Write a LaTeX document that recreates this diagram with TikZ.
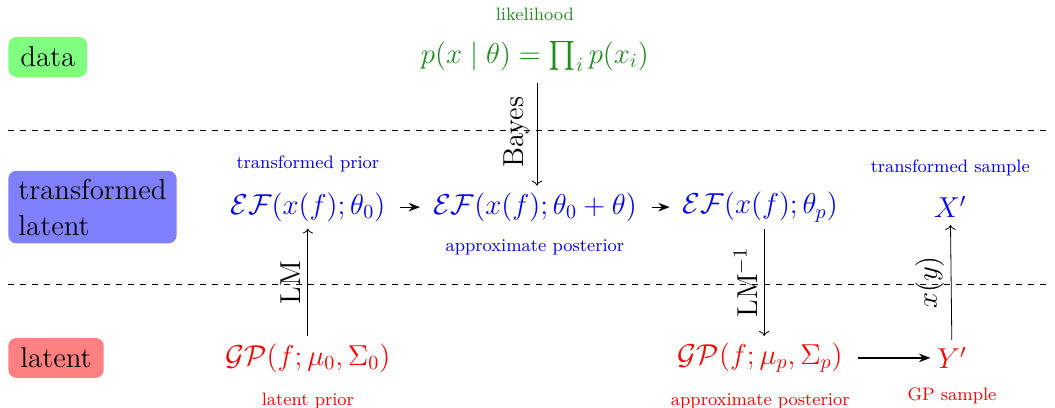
\documentclass[tikz,border=0pt]{standalone}
\usepackage{amsmath,amssymb}
\usepackage{tikz}
\usetikzlibrary{arrows.meta}
\usepackage{xcolor}
\definecolor{likgreen}{RGB}{34,139,34}

\begin{document}
\begin{tikzpicture}[every node/.style={font=\Large},
  level/.style={rounded corners, inner ysep=4pt, inner xsep=6pt, minimum height=0.7cm, anchor=west, align=left},
  note/.style={font=\small}]
  \useasboundingbox (0,0) rectangle (18.54,7.17);

  % level boxes on the left
  \node[level, fill=green!50] (data) at (0.14,6.17) {data};
  \node[level, fill=blue!50, inner xsep=5pt] (tlatent) at (0.14,3.53) {transformed\\latent};
  \node[level, fill=red!50] (latent) at (0.14,0.88) {latent};

  \draw[dashed] (0.14,4.87) -- (18.45,4.87);
  \draw[dashed] (0.14,2.18) -- (18.45,2.18);

  % data row
  \node[likgreen] (lik) at (9.40,6.17) {$p(x \mid \theta) = \prod_i p(x_i)$};
  \node[note, likgreen] (liklabel) at (9.40,6.91) {likelihood};

  % transformed latent row
  \node[blue] (ef0) at (5.41,3.53) {$\mathcal{E}\mathcal{F}(x(f);\theta_0)$};
  \node[blue] (efb) at (9.40,3.53) {$\mathcal{E}\mathcal{F}(x(f);\theta_0+\theta)$};
  \node[blue] (efp) at (13.36,3.53) {$\mathcal{E}\mathcal{F}(x(f);\theta_p)$};
  \node[blue] (xp) at (16.70,3.53) {$X'$};
  \node[note, blue] (tprior) at (5.41,4.29) {transformed prior};
  \node[note, blue] (apost) at (9.40,2.83) {approximate posterior};
  \node[note, blue] (tsample) at (16.70,4.22) {transformed sample};

  % latent row
  \node[red] (gp0) at (5.41,0.88) {$\mathcal{GP}(f;\mu_0,\Sigma_0)$};
  \node[red] (gpp) at (13.36,0.88) {$\mathcal{GP}(f;\mu_p,\Sigma_p)$};
  \node[red] (yp) at (16.73,0.88) {$Y'$};
  \node[note, red] (lprior) at (5.41,0.12) {latent prior};
  \node[note, red] (lpost) at (13.36,0.12) {approximate posterior};
  \node[note, red] (gpsample) at (16.73,0.21) {GP sample};

  % connectors
  \draw[->, shorten <=2pt] ([xshift=1pt]lik.south) -- node[midway, rotate=90, anchor=south] {Bayes} ([xshift=1pt]efb.north);
  \draw[-Stealth, semithick, shorten <=4pt, shorten >=3pt] (ef0) -- (efb);
  \draw[-Stealth, semithick, shorten <=4pt, shorten >=3pt] (efb) -- (efp);
  \draw[->] (gp0) -- node[midway, rotate=90, anchor=south] {LM} (ef0);
  \draw[->] ([xshift=2pt]efp.south) -- node[midway, rotate=90, anchor=south] {LM$^{-1}$} ([xshift=2pt]gpp.north);
  \draw[->] (yp) -- node[midway, rotate=90, anchor=south] {$x(y)$} (xp);
  \draw[-Stealth, semithick, shorten <=4pt] (gpp) -- (yp);
\end{tikzpicture}
\end{document}
